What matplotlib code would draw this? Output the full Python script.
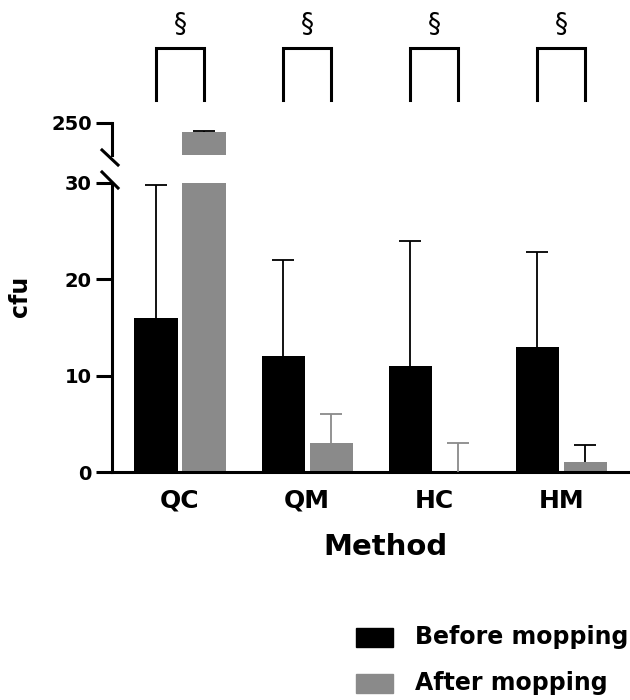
import matplotlib
matplotlib.use('Agg')
import matplotlib.pyplot as plt
import numpy as np
from matplotlib.patches import Rectangle
from matplotlib.lines import Line2D
from matplotlib.transforms import blended_transform_factory

plt.rcParams['font.family'] = 'DejaVu Sans'
plt.rcParams['font.weight'] = 'bold'

# data
methods = ['QC', 'QM', 'HC', 'HM']
before_mean = [16, 12, 11, 13]
before_sd = [13.8, 10, 13, 9.8]
after_mean = [247.2, 3, 0, 1]
after_sd = [0.3, 3, 3, 1.8]
series = ['Before mopping', 'After mopping']
sig_marks = ['§', '§', '§', '§']

black = '#000000'
grey = '#8a8a8a'
after_err_colors = [grey, grey, grey, black]

W, H = 630, 700
fig = plt.figure(figsize=(6.3, 7), dpi=100)

def fx(x):
    return x / W

def fy(y):
    return 1 - y / H

def up_err(a, xs, ys, errs, col):
    # upper-only error bar, no cap at the bar top
    _, caps, _ = a.errorbar(xs, ys, yerr=[np.zeros(len(errs)), errs], fmt='none',
                            ecolor=col, elinewidth=1.3, capsize=8, capthick=1.3, zorder=3)
    caps[0].set_visible(False)

# broken y axis: lower 0-30, upper 240-250
ax = fig.add_axes([fx(112), fy(472), 1 - fx(112), fy(183) - fy(472)])
ax_top = fig.add_axes([fx(112), fy(155), 1 - fx(112), fy(123) - fy(155)])

x = np.arange(len(methods))
off = 0.189
bw = 0.339
for a in (ax, ax_top):
    a.set_facecolor('none')
    a.bar(x - off, before_mean, bw, color=black, zorder=2)
    a.bar(x + off, after_mean, bw, color=grey, zorder=2)
    a.set_xlim(-0.535, 3.54)
    for s in ['top', 'right']:
        a.spines[s].set_visible(False)
    a.spines['left'].set_linewidth(2.2)
    a.spines['bottom'].set_linewidth(2.2)
    a.tick_params(axis='y', length=11.5, width=2.2, labelsize=14, pad=3)

up_err(ax, x - off, before_mean, before_sd, black)
for i in range(1, len(x)):
    up_err(ax, [x[i] + off], [after_mean[i]], [after_sd[i]], after_err_colors[i])
up_err(ax_top, [x[0] + off], [after_mean[0]], [after_sd[0]], black)

ax.set_ylim(0, 30)
ax.set_yticks([0, 10, 20, 30])
ax.set_xticks(x)
ax.set_xticklabels(methods)
ax.tick_params(axis='x', length=0, labelsize=18, pad=12)

ax_top.set_ylim(240, 250)
ax_top.set_yticks([250])
ax_top.set_xticks([])
ax_top.spines['bottom'].set_visible(False)

# break marks
for (x0, y0, x1, y1) in [(102, 150, 118, 165), (102, 172, 118, 188)]:
    fig.add_artist(Line2D([fx(x0), fx(x1)], [fy(y0), fy(y1)], color=black, lw=2.2,
                          transform=fig.transFigure))

# significance brackets
tr = blended_transform_factory(ax.transData, fig.transFigure)
for i, m in enumerate(sig_marks):
    fig.add_artist(Line2D([i - off, i - off, i + off, i + off],
                          [fy(100), fy(48), fy(48), fy(100)],
                          color=black, lw=2.2, transform=tr, solid_joinstyle='miter'))
    fig.text(i, fy(25), m, transform=tr, ha='center', va='center',
             fontsize=19, fontweight='normal')

fig.text(fx(385), fy(547), 'Method', ha='center', va='center', fontsize=21)
fig.text(fx(20), fy(296), 'cfu', rotation=90, ha='center', va='center', fontsize=17)

# legend
for j, (lab, col) in enumerate(zip(series, [black, grey])):
    yc = 637 + 46 * j
    fig.add_artist(Rectangle((fx(356), fy(yc + 9.5)), fx(37), 19 / H, color=col,
                             transform=fig.transFigure))
    fig.text(fx(415), fy(yc), lab, ha='left', va='center', fontsize=17)

fig.savefig('out.png', dpi=100)
